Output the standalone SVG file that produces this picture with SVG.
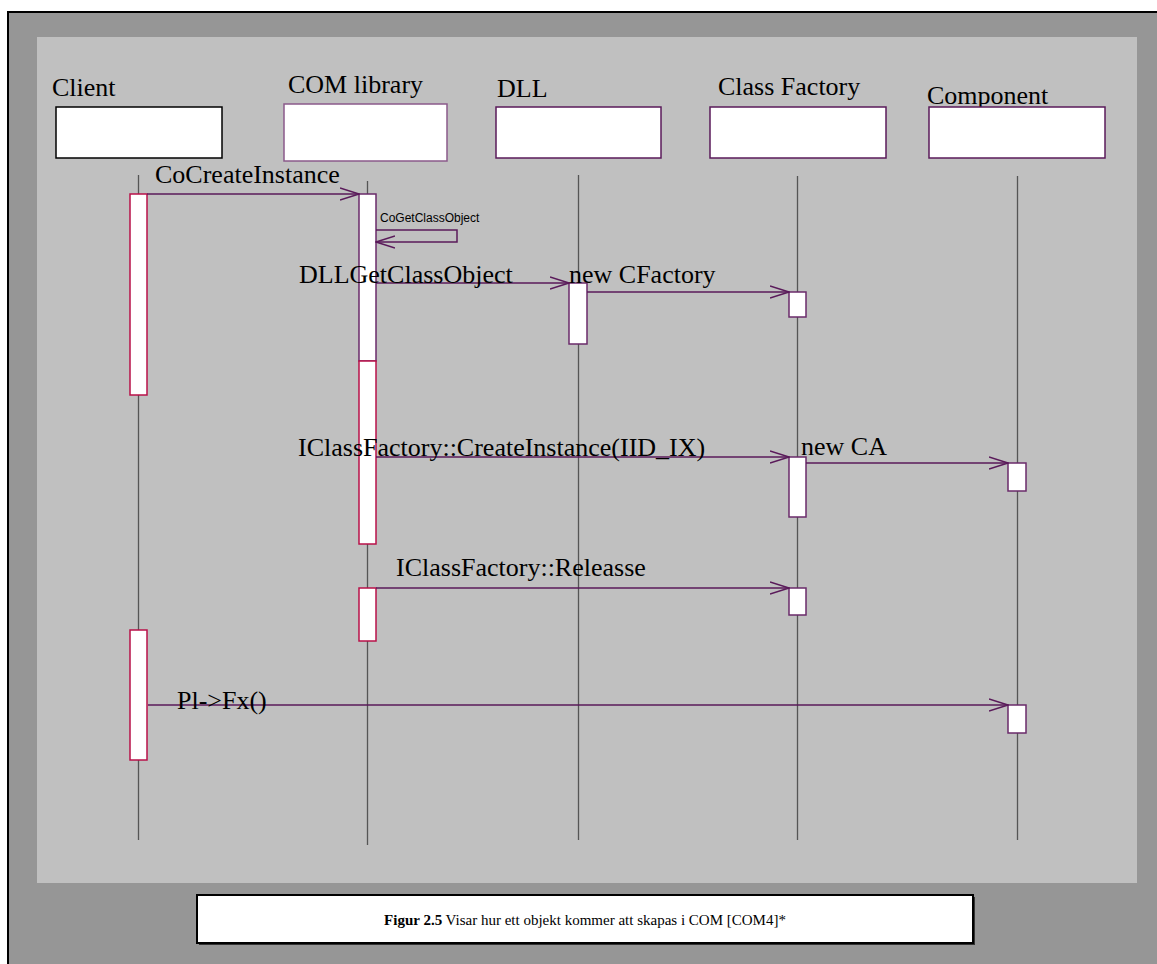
<svg xmlns="http://www.w3.org/2000/svg" width="1157" height="964" viewBox="0 0 1157 964">
<style>
.lbl{font-family:"Liberation Serif","Times New Roman",serif;font-size:26px;fill:#000}
.small{font-family:"Liberation Sans",Arial,sans-serif;font-size:12px;fill:#000}
.obj{fill:#fff;stroke:#5a1a5a;stroke-width:1.5}
.life{stroke:#555;stroke-width:1.3;fill:none}
.actR{fill:#fff;stroke:#b81048;stroke-width:1.5}
.actP{fill:#fff;stroke:#6a2a6a;stroke-width:1.5}
.msg{stroke:#5a1a5a;stroke-width:1.5;fill:none}
</style>
<defs>
<marker id="open" viewBox="0 0 20 14" refX="19" refY="7" markerWidth="20" markerHeight="14" markerUnits="userSpaceOnUse" orient="auto">
<path d="M0,1 L19,7 L0,13" fill="none" stroke="#5a1a5a" stroke-width="1.6"/>
</marker>
</defs>
<rect x="0" y="0" width="1157" height="964" fill="#fff"/>
<rect x="8" y="12" width="1160" height="960" fill="#969696" stroke="#000" stroke-width="2"/>
<rect x="37" y="37" width="1100" height="846" fill="#c0c0c0"/>

<g id="lifelines">
<line class="life" x1="138.5" y1="175" x2="138.5" y2="840"/>
<line class="life" x1="367.5" y1="181" x2="367.5" y2="845"/>
<line class="life" x1="578.5" y1="175" x2="578.5" y2="840"/>
<line class="life" x1="797.5" y1="176" x2="797.5" y2="840"/>
<line class="life" x1="1017.5" y1="176" x2="1017.5" y2="840"/>
</g>

<g id="client">
<text class="lbl" x="52" y="96">Client</text>
<rect x="56" y="107" width="166" height="51" fill="#fff" stroke="#000" stroke-width="1.5"/>
<rect class="actR" x="130" y="194" width="17" height="201"/>
<rect class="actR" x="130" y="630" width="17" height="130"/>
</g>

<g id="comlibrary">
<text class="lbl" x="288" y="93">COM library</text>
<rect x="284" y="104" width="163" height="57" fill="#fff" stroke="#8a5a8a" stroke-width="1.5"/>
<rect class="actP" x="359" y="194" width="17" height="167"/>
<rect class="actR" x="359" y="361" width="17" height="183"/>
<rect class="actR" x="359" y="588" width="17" height="53"/>
</g>

<g id="dll">
<text class="lbl" x="497" y="97">DLL</text>
<rect class="obj" x="496" y="107" width="165" height="51"/>
<rect class="actP" x="569" y="283" width="18" height="61"/>
</g>

<g id="classfactory">
<text class="lbl" x="718" y="95">Class Factory</text>
<rect class="obj" x="710" y="107" width="176" height="51"/>
<rect class="actP" x="789" y="292" width="17" height="25"/>
<rect class="actP" x="789" y="457" width="17" height="60"/>
<rect class="actP" x="789" y="588" width="17" height="27"/>
</g>

<g id="component">
<text class="lbl" x="927" y="104">Component</text>
<rect class="obj" x="929" y="107" width="176" height="51"/>
<rect class="actP" x="1008" y="463" width="18" height="28"/>
<rect class="actP" x="1008" y="705" width="18" height="28"/>
</g>

<g id="connectors">
<line class="msg" x1="147" y1="194" x2="359" y2="194" marker-end="url(#open)"/>
<polyline class="msg" points="376,230 457,230 457,242 376,242" marker-end="url(#open)"/>
<line class="msg" x1="376" y1="283" x2="569" y2="283" marker-end="url(#open)"/>
<line class="msg" x1="587" y1="292" x2="789" y2="292" marker-end="url(#open)"/>
<line class="msg" x1="376" y1="457" x2="789" y2="457" marker-end="url(#open)"/>
<line class="msg" x1="806" y1="463" x2="1008" y2="463" marker-end="url(#open)"/>
<line class="msg" x1="376" y1="588" x2="789" y2="588" marker-end="url(#open)"/>
<line class="msg" x1="148" y1="705" x2="1008" y2="705" marker-end="url(#open)"/>
</g>

<g id="labels">
<text class="lbl" x="155" y="183">CoCreateInstance</text>
<text class="small" x="380" y="222">CoGetClassObject</text>
<text class="lbl" x="299" y="283">DLLGetClassObject</text>
<text class="lbl" x="569" y="283">new CFactory</text>
<text class="lbl" x="298" y="456">IClassFactory::CreateInstance(IID_IX)</text>
<text class="lbl" x="801" y="455">new CA</text>
<text class="lbl" x="396" y="576">IClassFactory::Releasse</text>
<text class="lbl" x="177" y="709">Pl-&gt;Fx()</text>
</g>

<g id="caption">
<rect x="199" y="897" width="776" height="48" fill="#333"/>
<rect x="197" y="895" width="776" height="48" fill="#fff" stroke="#000" stroke-width="2"/>
<text x="585" y="925" text-anchor="middle" font-family="'Liberation Serif','Times New Roman',serif" font-size="15" fill="#000"><tspan font-weight="bold">Figur 2.5</tspan> Visar hur ett objekt kommer att skapas i COM [COM4]*</text>
</g>
</svg>
